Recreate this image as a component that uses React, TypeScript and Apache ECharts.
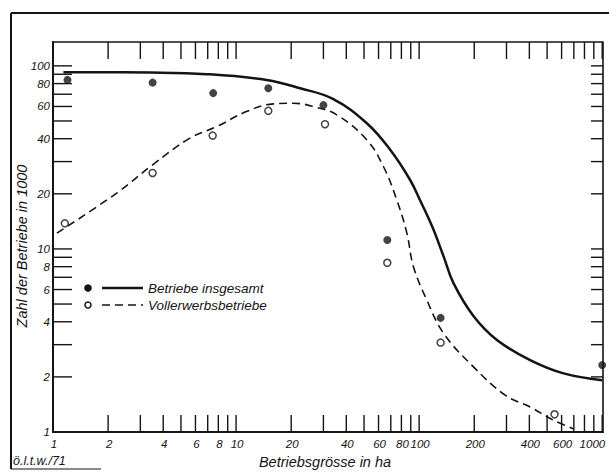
import React, { useEffect, useRef } from 'react';
import * as echarts from 'echarts';

const X_MIN = 1;
const X_MAX = 1010;
const Y_MIN = 1;
const Y_MAX = 135;

const xTickValues = [2, 3, 4, 5, 6, 7, 8, 9, 10, 20, 30, 40, 50, 60, 70, 80, 90, 100, 200, 300, 400, 500, 600, 700, 800, 900, 1000];
const yTickValues = [2, 3, 4, 5, 6, 7, 8, 9, 10, 20, 30, 40, 50, 60, 70, 80, 90, 100];
const xLabelValues = [1, 2, 4, 6, 8, 10, 20, 40, 60, 80, 100, 200, 400, 600, 1000];
const yLabelValues = [1, 2, 4, 6, 8, 10, 20, 40, 60, 80, 100];

// Betriebe insgesamt (filled dots)
const totalPoints = [[1.2, 83.8], [3.5, 81], [7.5, 71], [15, 75.5], [30, 61], [67, 11.2], [131, 4.2], [1000, 2.32]];
// Vollerwerbsbetriebe (open circles)
const fullTimePoints = [[1.16, 13.8], [3.5, 26], [7.45, 41.6], [15, 56.8], [30.6, 48], [67, 8.4], [131, 3.08], [549, 1.25]];

const totalCurve = [[1.14, 92.4], [3.4, 91.9], [6.9, 90.1], [14.7, 83.8], [22.4, 75.5], [34, 65.8], [51.8, 48.6], [69.5, 34.8], [89.3, 23.8], [101, 18.5], [118, 13.2], [136, 9.1], [154, 6.5], [198, 4.3], [266, 3.18], [404, 2.47], [615, 2.09], [1000, 1.92]];
const fullTimeCurve = [[1.05, 12.2], [2.23, 20.2], [3.5, 28.8], [5.6, 40.3], [7.85, 46.6], [11.4, 56.3], [16, 62], [20.6, 62.5], [26.5, 59.9], [35.5, 54], [51.8, 39.4], [63.8, 28.2], [75.5, 18.5], [85.7, 12.2], [93.1, 8.0], [110, 5.27], [136, 3.46], [198, 2.27], [295, 1.59], [404, 1.37], [542, 1.16], [700, 1.04]];

const INK = '#141414';
const FONT = 'Liberation Sans';

export default function App() {
  const ref = useRef<HTMLDivElement>(null);

  useEffect(() => {
    if (!ref.current) return;
    const chart = echarts.init(ref.current, undefined, { renderer: 'svg' });

    const lineStyle = { stroke: INK, lineWidth: 1.4 };

    const option: any = {
      animation: false,
      backgroundColor: '#ffffff',
      grid: {
        left: 53,
        right: 6,
        top: 42,
        bottom: 40,
        show: true,
        borderColor: INK,
        borderWidth: 1.6,
        backgroundColor: 'transparent',
      },
      xAxis: {
        type: 'log',
        logBase: 10,
        min: X_MIN,
        max: X_MAX,
        axisLine: { show: true, lineStyle: { color: INK, width: 2 } },
        axisTick: { show: false },
        axisLabel: { show: false },
        splitLine: { show: false },
      },
      yAxis: {
        type: 'log',
        logBase: 10,
        min: Y_MIN,
        max: Y_MAX,
        axisLine: { show: true, lineStyle: { color: INK, width: 2 } },
        axisTick: { show: false },
        axisLabel: { show: false },
        splitLine: { show: false },
      },
      graphic: [
        // outer frame
        { type: 'line', shape: { x1: 11, y1: 13, x2: 609, y2: 13 }, style: { stroke: INK, lineWidth: 2 } },
        { type: 'line', shape: { x1: 11, y1: 13, x2: 11, y2: 469 }, style: { stroke: INK, lineWidth: 2 } },
        { type: 'line', shape: { x1: 11, y1: 469, x2: 101, y2: 469 }, style: { stroke: INK, lineWidth: 1.2 } },
        {
          type: 'text', x: 13, y: 461,
          style: { text: 'ö.l.t.w./71', fill: INK, font: `italic 12.5px "${FONT}"`, align: 'left', verticalAlign: 'middle' },
        },
        {
          type: 'text', x: 325, y: 462,
          style: { text: 'Betriebsgrösse in ha', fill: INK, font: `italic 14.5px "${FONT}"`, align: 'center', verticalAlign: 'middle' },
        },
        {
          type: 'text', x: 22, y: 246, rotation: Math.PI / 2,
          style: { text: 'Zahl der Betriebe in 1000', fill: INK, font: `italic 14.5px "${FONT}"`, align: 'center', verticalAlign: 'middle' },
        },
        // legend
        { type: 'circle', shape: { cx: 88, cy: 288, r: 3.8 }, style: { fill: INK } },
        { type: 'line', shape: { x1: 102, y1: 288, x2: 143, y2: 288 }, style: { stroke: INK, lineWidth: 2.4 } },
        {
          type: 'text', x: 148, y: 288,
          style: { text: 'Betriebe insgesamt', fill: INK, font: `italic 13.5px "${FONT}"`, align: 'left', verticalAlign: 'middle' },
        },
        { type: 'circle', shape: { cx: 88, cy: 305, r: 3 }, style: { fill: '#fff', stroke: INK, lineWidth: 1.5 } },
        { type: 'line', shape: { x1: 102, y1: 305, x2: 143, y2: 305 }, style: { stroke: INK, lineWidth: 1.6, lineDash: [8, 5] } },
        {
          type: 'text', x: 148, y: 305,
          style: { text: 'Vollerwerbsbetriebe', fill: INK, font: `italic 13.5px "${FONT}"`, align: 'left', verticalAlign: 'middle' },
        },
      ],
      series: [
        {
          type: 'custom',
          coordinateSystem: 'cartesian2d',
          silent: true,
          clip: false,
          z: 5,
          data: xTickValues.map((v) => [v, Y_MIN]),
          renderItem: (params: any, api: any) => {
            const v = api.value(0);
            const a = api.coord([v, Y_MIN]);
            const b = api.coord([v, Y_MAX]);
            return {
              type: 'group',
              children: [
                { type: 'line', shape: { x1: a[0], y1: a[1], x2: a[0], y2: a[1] - 17 }, style: lineStyle },
                { type: 'line', shape: { x1: b[0], y1: b[1], x2: b[0], y2: b[1] + 17 }, style: lineStyle },
              ],
            };
          },
        },
        {
          type: 'custom',
          coordinateSystem: 'cartesian2d',
          silent: true,
          clip: false,
          z: 5,
          data: yTickValues.map((v) => [X_MIN, v]),
          renderItem: (params: any, api: any) => {
            const v = api.value(1);
            const a = api.coord([X_MIN, v]);
            const b = api.coord([X_MAX, v]);
            return {
              type: 'group',
              children: [
                { type: 'line', shape: { x1: a[0], y1: a[1], x2: a[0] + 19, y2: a[1] }, style: lineStyle },
                { type: 'line', shape: { x1: b[0], y1: b[1], x2: b[0] - 12, y2: b[1] }, style: lineStyle },
              ],
            };
          },
        },
        {
          type: 'custom',
          coordinateSystem: 'cartesian2d',
          silent: true,
          clip: false,
          z: 5,
          data: xLabelValues.map((v) => [v, Y_MIN]),
          renderItem: (params: any, api: any) => {
            const v = api.value(0);
            const a = api.coord([v, Y_MIN]);
            const last = v >= 1000;
            return {
              type: 'text',
              x: last ? a[0] + 3 : a[0] + 1,
              y: a[1] + 12,
              style: {
                text: String(v),
                fill: INK,
                font: `italic 11.5px "${FONT}"`,
                align: last ? 'right' : 'center',
                verticalAlign: 'middle',
              },
            };
          },
        },
        {
          type: 'custom',
          coordinateSystem: 'cartesian2d',
          silent: true,
          clip: false,
          z: 5,
          data: yLabelValues.map((v) => [X_MIN, v]),
          renderItem: (params: any, api: any) => {
            const v = api.value(1);
            const a = api.coord([X_MIN, v]);
            return {
              type: 'text',
              x: a[0] - 3,
              y: a[1],
              style: {
                text: String(v),
                fill: INK,
                font: `italic 11.5px "${FONT}"`,
                align: 'right',
                verticalAlign: 'middle',
              },
            };
          },
        },
        {
          name: 'Betriebe insgesamt',
          type: 'line',
          data: totalCurve,
          smooth: 0.4,
          symbol: 'none',
          lineStyle: { color: INK, width: 2.5 },
          z: 3,
        },
        {
          name: 'Vollerwerbsbetriebe',
          type: 'line',
          data: fullTimeCurve,
          smooth: 0.4,
          symbol: 'none',
          lineStyle: { color: INK, width: 1.6, type: [8, 5] },
          z: 3,
        },
        {
          type: 'scatter',
          data: totalPoints,
          symbol: 'circle',
          symbolSize: 8,
          itemStyle: { color: INK },
          clip: false,
          z: 4,
        },
        {
          type: 'scatter',
          data: fullTimePoints,
          symbol: 'circle',
          symbolSize: 7,
          itemStyle: { color: '#ffffff', borderColor: INK, borderWidth: 1.5 },
          clip: false,
          z: 4,
        },
      ],
    };

    chart.setOption(option);
    return () => {
      chart.dispose();
    };
  }, []);

  return (
    <div
      ref={ref}
      style={{ position: 'fixed', left: 0, top: 0, width: 609, height: 472, background: '#fff' }}
    />
  );
}
